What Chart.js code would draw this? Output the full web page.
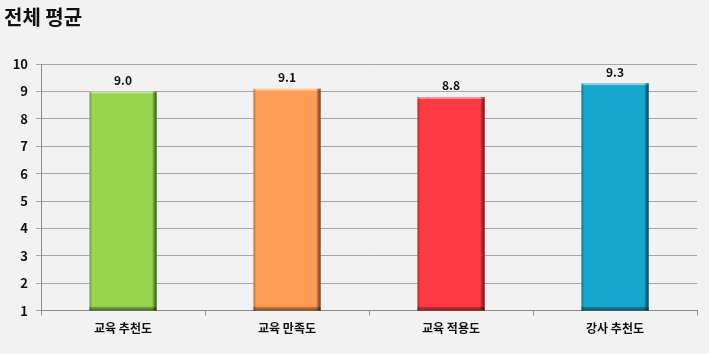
<!DOCTYPE html>
<html>
<head>
<meta charset="utf-8">
<script src="https://cdn.jsdelivr.net/npm/chart.js@4"></script>
<style>
  body { margin: 0; background: #f2f2f2; }
  #wrap { width: 709px; height: 354px; }
</style>
</head>
<body>
<div id="wrap"><canvas id="myChart" width="709" height="354"></canvas></div>
<script>
const categories = ["교육 추천도", "교육 만족도", "교육 적용도", "강사 추천도"];
const averages = [9.0, 9.1, 8.8, 9.3];
const barColors = ["#97d54f", "#fe9c55", "#fe3a45", "#17a7cd"];
const yTicks = [1, 2, 3, 4, 5, 6, 7, 8, 9, 10];

const FONT = "'Noto Sans CJK KR', 'Noto Sans', sans-serif";

// bevel + value label on each bar
const bevel = {
  id: "bevel",
  afterDatasetsDraw(chart) {
    const ctx = chart.ctx;
    const area = chart.chartArea;
    const meta = chart.getDatasetMeta(0);
    meta.data.forEach((bar, i) => {
      const w = bar.width;
      const x0 = bar.x - w / 2, x1 = bar.x + w / 2;
      const y0 = bar.y, y1 = Math.min(bar.base, area.bottom);
      ctx.save();
      // top highlight
      ctx.fillStyle = "rgba(255,255,255,0.45)";
      ctx.fillRect(x0, y0, w, 2);
      // left edge
      ctx.fillStyle = "rgba(0,0,0,0.18)";
      ctx.fillRect(x0, y0, 2, y1 - y0);
      // right edge
      let g = ctx.createLinearGradient(x1 - 4, 0, x1, 0);
      g.addColorStop(0, "rgba(0,0,0,0.15)");
      g.addColorStop(1, "rgba(0,0,0,0.6)");
      ctx.fillStyle = g;
      ctx.fillRect(x1 - 4, y0, 4, y1 - y0);
      // bottom edge
      g = ctx.createLinearGradient(0, y1 - 4, 0, y1);
      g.addColorStop(0, "rgba(0,0,0,0.15)");
      g.addColorStop(1, "rgba(0,0,0,0.55)");
      ctx.fillStyle = g;
      ctx.fillRect(x0, y1 - 4, w, 4);
      // label
      ctx.fillStyle = "#111";
      ctx.font = "bold 12px " + FONT;
      ctx.textAlign = "center";
      ctx.textBaseline = "bottom";
      ctx.fillText(averages[i].toFixed(1), bar.x, y0 - 5);
      ctx.restore();
    });
  }
};

new Chart(document.getElementById("myChart"), {
  type: "bar",
  data: {
    labels: categories,
    datasets: [{
      data: averages,
      backgroundColor: barColors,
      borderWidth: 0,
      barPercentage: 0.41,
      categoryPercentage: 1.0
    }]
  },
  options: {
    responsive: false,
    animation: false,
    layout: { padding: { left: 4, right: 12, top: 0, bottom: 12 } },
    plugins: {
      legend: { display: false },
      tooltip: { enabled: false },
      title: {
        display: true,
        text: "전체 평균",
        align: "start",
        color: "#111",
        font: { family: FONT, size: 20, weight: "bold" },
        padding: { top: 5, bottom: 35 }
      }
    },
    scales: {
      x: {
        grid: { drawOnChartArea: false, tickLength: 5, color: "#8c8c8c", offset: true },
        border: { color: "#8c8c8c" },
        ticks: { color: "#111", font: { family: FONT, size: 12, weight: "bold" }, padding: 6 }
      },
      y: {
        min: 1,
        max: 10,
        afterBuildTicks: (axis) => { axis.ticks = yTicks.map(v => ({ value: v })); },
        afterFit: (axis) => { axis.width = 37; },
        grid: { color: "#a6a6a6", tickLength: 5 },
        border: { color: "#8c8c8c" },
        ticks: { color: "#111", font: { family: FONT, size: 13, weight: "bold" }, padding: 8 }
      }
    }
  },
  plugins: [bevel]
});
</script>
</body>
</html>
